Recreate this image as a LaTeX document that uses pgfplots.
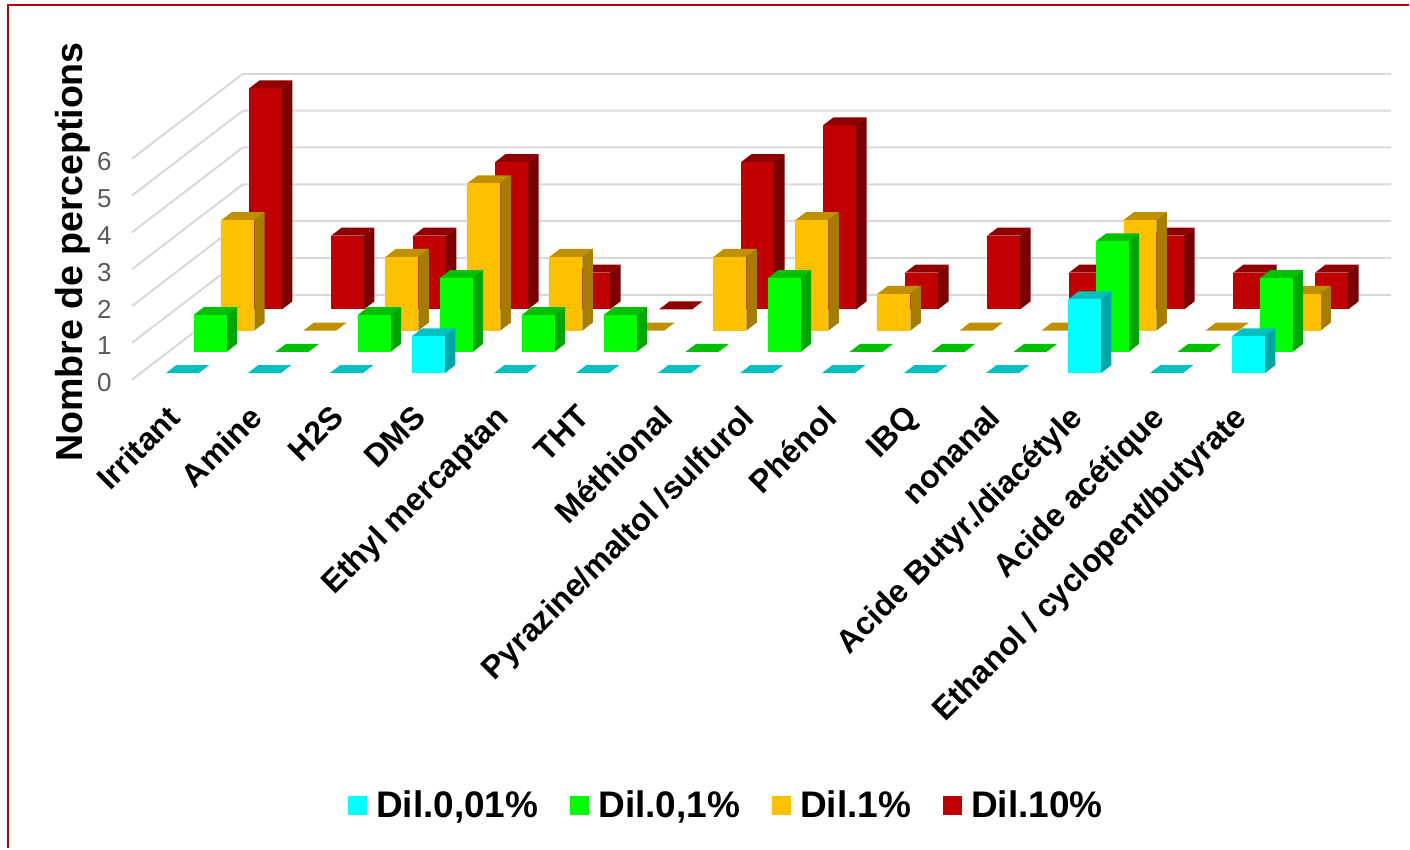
\documentclass[border=0pt]{standalone}
\usepackage{fontspec}
\setmainfont{Liberation Sans}
\usepackage{pgfplots}
\usepackage{pgfplotstable}
\pgfplotsset{compat=1.18}

\definecolor{front0}{HTML}{00FFFF}\definecolor{top0}{HTML}{00C0C0}\definecolor{side0}{HTML}{00A6A6}
\definecolor{front1}{HTML}{00FF00}\definecolor{top1}{HTML}{00C000}\definecolor{side1}{HTML}{00A600}
\definecolor{front2}{HTML}{FFC000}\definecolor{top2}{HTML}{C09000}\definecolor{side2}{HTML}{A67D00}
\definecolor{front3}{HTML}{C00000}\definecolor{top3}{HTML}{900000}\definecolor{side3}{HTML}{7D0000}
\definecolor{gridgray}{HTML}{D9D9D9}

% one column per dilution, one line per category
\pgfplotstableread{
c0 c1 c2 c3
0  1  3  6
0  0  0  2
0  1  2  2
1  2  4  4
0  1  2  1
0  1  0  0
0  0  2  4
0  2  3  5
0  0  1  1
0  0  0  2
0  0  0  1
2  3  3  2
0  0  0  1
1  2  1  1
}\perceptions

% cuboid of category #1, depth row #2, height #3
\newcommand{\cuboid}[3]{%
  \pgfmathsetmacro\xa{#1+0.308}\pgfmathsetmacro\xb{#1+0.71}%
  \pgfmathsetmacro\ya{#2+0.315}\pgfmathsetmacro\yb{#2+0.69}%
  \edef\tmp{%
    \noexpand\addplot3[no marks,draw=none,fill=top#2,forget plot] coordinates
      {(\xa,\ya,#3) (\xb,\ya,#3) (\xb,\yb,#3) (\xa,\yb,#3)};
    \ifdim#3pt>0pt
    \noexpand\addplot3[no marks,draw=none,fill=side#2,forget plot] coordinates
      {(\xb,\ya,0) (\xb,\yb,0) (\xb,\yb,#3) (\xb,\ya,#3)};
    \noexpand\addplot3[no marks,draw=none,fill=front#2,forget plot] coordinates
      {(\xa,\ya,0) (\xb,\ya,0) (\xb,\ya,#3) (\xa,\ya,#3)};
    \fi
  }\tmp
}

\begin{document}
\begin{tikzpicture}
\begin{axis}[
    x={(41.035pt,0pt)}, y={(13.875pt,10.625pt)}, z={(0pt,18.425pt)},
    xmin=0, xmax=14, ymin=0, ymax=4, zmin=0, zmax=6,
    clip=false,
    axis line style={draw=none},
    major tick length=0pt,
    xtick={0.5,1.5,...,13.5},
    xticklabels={Irritant,Amine,H2S,DMS,Ethyl mercaptan,THT,Méthional,Pyrazine/maltol /sulfurol,Phénol,IBQ,nonanal,Acide Butyr./diacétyle,Acide acétique,Ethanol / cyclopent/butyrate},
    ytick=\empty,
    ztick={0,1,...,6},
    /pgf/number format/assume math mode=true,
    xticklabel style={rotate=45,anchor=north east,font=\fontsize{16}{18}\selectfont\bfseries,text=black,inner sep=0pt,yshift=-5.65pt,xshift=-10.8pt},
    zticklabel style={anchor=east,font=\fontsize{13}{15}\selectfont,text=black!65,inner sep=0pt,xshift=-10pt,yshift=-1.5pt},
    zlabel={Nombre de perceptions},
    every axis z label/.style={at={(axis cs:-0.72,0,3.47)},anchor=center,rotate=90,font=\fontsize{18.8}{22}\selectfont\bfseries},
    legend style={at={(axis cs:7.26,0,-11.56)},anchor=center,draw=none,fill=none,legend columns=4,
      font=\fontsize{18.5}{22}\selectfont\bfseries,
      /tikz/every even column/.style={column sep=14pt},
      /tikz/every odd column/.style={column sep=2.5pt}},
    legend image code/.code={\fill[#1,draw=none] (0pt,-4.75pt) rectangle (9.5pt,4.75pt);},
]
\coordinate (O) at (axis cs:0,0,0);

% side wall and back wall lines
\foreach \k in {0,...,6} {
  \edef\tmp{\noexpand\addplot3[no marks,gridgray,line width=1pt,forget plot] coordinates {(0,0,\k) (0,4,\k) (14,4,\k)};}\tmp
}

% back row first so that nearer bars cover it
\foreach \r in {3,2,1,0} {
  \foreach \i in {0,...,13} {
    \pgfplotstablegetelem{\i}{c\r}\of\perceptions
    \edef\val{\pgfplotsretval}
    \edef\go{\noexpand\cuboid{\i}{\r}{\val}}\go
  }
}

\addlegendimage{fill=front0}\addlegendentry{Dil.0,01\%}
\addlegendimage{fill=front1}\addlegendentry{Dil.0,1\%}
\addlegendimage{fill=front2}\addlegendentry{Dil.1\%}
\addlegendimage{fill=front3}\addlegendentry{Dil.10\%}
\end{axis}
\begin{scope}[shift={(O)}]
  \path (-66pt,-234.5pt) rectangle (639pt,190pt);
  \draw[color=front3,line width=1pt] (-61.75pt,-234.5pt) -- (-61.75pt,187.25pt) -- (639pt,187.25pt);
\end{scope}
\end{tikzpicture}
\end{document}
